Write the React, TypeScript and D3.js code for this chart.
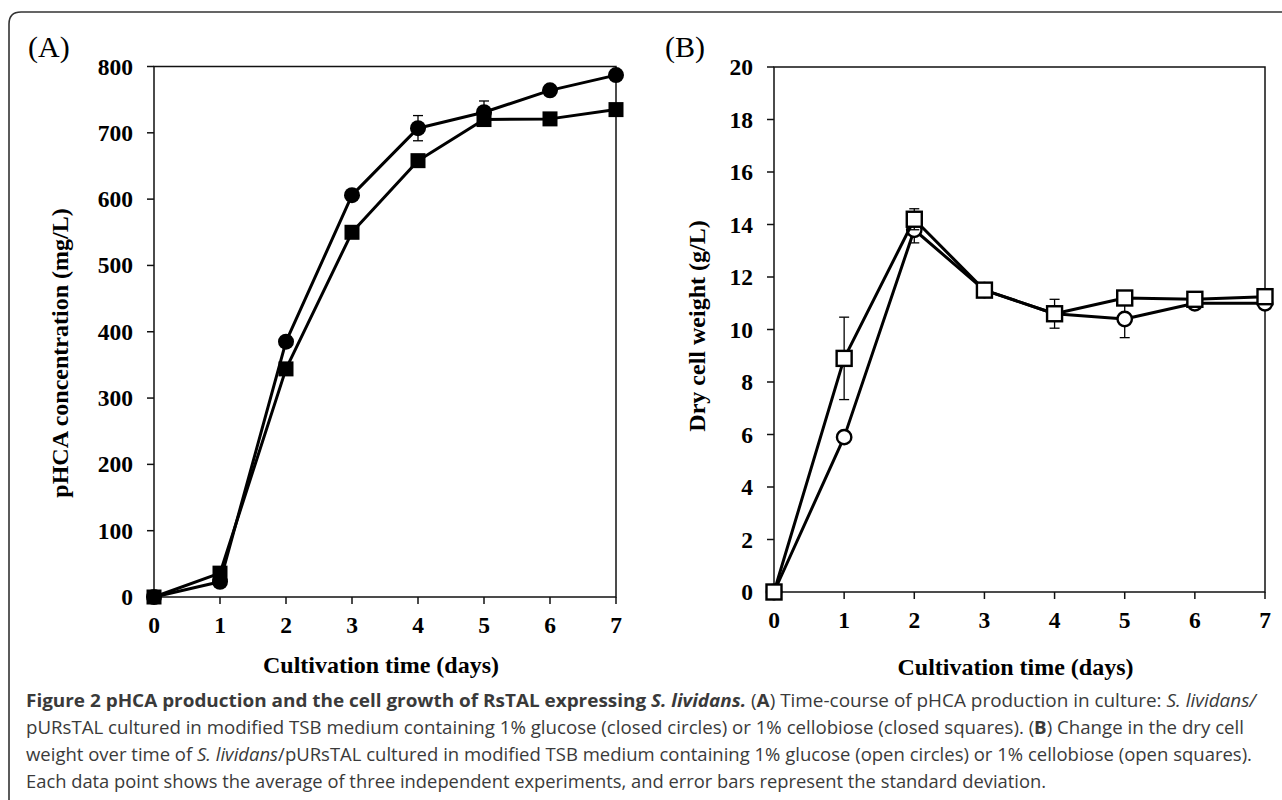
import React from "react";
import * as d3 from "d3";

// ---------- data ----------
const days = [0, 1, 2, 3, 4, 5, 6, 7];

// Panel A: pHCA concentration (mg/L)
const aGlucose = [0, 23, 385, 606, 707, 731, 764, 787];
const aGlucoseErr = [0, 0, 0, 0, 19, 17, 0, 0];
const aCellobiose = [0, 36, 344, 550, 658, 720, 721, 735];
const aCellobioseErr = [0, 0, 0, 0, 0, 0, 0, 0];
const aYTicks = [0, 100, 200, 300, 400, 500, 600, 700, 800];

// Panel B: dry cell weight (g/L)
const bGlucose = [0, 5.9, 13.8, 11.5, 10.6, 10.4, 11.0, 11.0];
const bGlucoseErr = [0, 0, 0.5, 0, 0, 0.71, 0.15, 0];
const bCellobiose = [0, 8.9, 14.2, 11.5, 10.6, 11.2, 11.15, 11.25];
const bCellobioseErr = [0, 1.57, 0.4, 0, 0.55, 0, 0, 0];
const bYTicks = [0, 2, 4, 6, 8, 10, 12, 14, 16, 18, 20];

const SERIF = "'Liberation Serif', 'Times New Roman', serif";
const SANS = "'Open Sans', 'Noto Sans', sans-serif";

type Series = { values: number[]; errs: number[]; shape: "circle" | "square"; filled: boolean };

type PanelProps = {
  label: string;
  labelX: number;
  x0: number;
  x1: number;
  yTop: number;
  yBottom: number;
  yMax: number;
  yTicks: number[];
  yTitle: string;
  yTitleX: number;
  yTitleY: number;
  xTitleY: number;
  series: Series[];
};

function Panel(p: PanelProps) {
  const x = d3.scaleLinear().domain([0, 7]).range([p.x0, p.x1]);
  const y = d3.scaleLinear().domain([0, p.yMax]).range([p.yBottom, p.yTop]);
  const line = d3
    .line<number>()
    .x((_, i) => x(days[i]))
    .y((v) => y(v));
  const tick = 7;
  const r = 7.2;
  const half = 7.5;
  return (
    <g>
      <text x={p.labelX} y={57} fontFamily={SERIF} fontSize={30} fill="#000">
        {p.label}
      </text>
      {/* frame */}
      <rect
        x={p.x0}
        y={p.yTop}
        width={p.x1 - p.x0}
        height={p.yBottom - p.yTop}
        fill="none"
        stroke="#111"
        strokeWidth={1.5}
      />
      {/* y ticks */}
      {p.yTicks.map((t) => (
        <g key={"y" + t}>
          <line x1={p.x0 - tick} x2={p.x0} y1={y(t)} y2={y(t)} stroke="#111" strokeWidth={1.5} />
          <text
            x={p.x0 - 21}
            y={y(t)}
            textAnchor="end"
            dominantBaseline="central"
            fontFamily={SERIF}
            fontWeight="bold"
            fontSize={23.5}
            fill="#000"
          >
            {t}
          </text>
        </g>
      ))}
      {/* x ticks */}
      {days.map((d) => (
        <g key={"x" + d}>
          <line x1={x(d)} x2={x(d)} y1={p.yBottom} y2={p.yBottom + tick} stroke="#111" strokeWidth={1.5} />
          <text
            x={x(d)}
            y={p.yBottom + 28}
            textAnchor="middle"
            dominantBaseline="central"
            fontFamily={SERIF}
            fontWeight="bold"
            fontSize={23.5}
            fill="#000"
          >
            {d}
          </text>
        </g>
      ))}
      {/* titles */}
      <text
        x={(p.x0 + p.x1) / 2 - 4}
        y={p.xTitleY}
        textAnchor="middle"
        dominantBaseline="central"
        fontFamily={SERIF}
        fontWeight="bold"
        fontSize={24}
        fill="#000"
      >
        Cultivation time (days)
      </text>
      <text
        transform={`translate(${p.yTitleX},${p.yTitleY}) rotate(-90)`}
        textAnchor="middle"
        dominantBaseline="central"
        fontFamily={SERIF}
        fontWeight="bold"
        fontSize={24}
        fill="#000"
      >
        {p.yTitle}
      </text>
      {/* series */}
      {p.series.map((s, si) => (
        <g key={"s" + si}>
          <path d={line(s.values) || ""} fill="none" stroke="#000" strokeWidth={3} strokeLinejoin="round" />
          {s.values.map((v, i) =>
            s.errs[i] > 0 ? (
              <g key={"e" + i} stroke="#000" strokeWidth={1.3}>
                <line x1={x(days[i])} x2={x(days[i])} y1={y(v + s.errs[i])} y2={y(v - s.errs[i])} />
                <line x1={x(days[i]) - 5} x2={x(days[i]) + 5} y1={y(v + s.errs[i])} y2={y(v + s.errs[i])} />
                <line x1={x(days[i]) - 5} x2={x(days[i]) + 5} y1={y(v - s.errs[i])} y2={y(v - s.errs[i])} />
              </g>
            ) : null
          )}
          {s.values.map((v, i) =>
            s.shape === "circle" ? (
              <circle
                key={"m" + i}
                cx={x(days[i])}
                cy={y(v)}
                r={s.filled ? r + 0.8 : r}
                fill={s.filled ? "#000" : "#fff"}
                stroke="#000"
                strokeWidth={s.filled ? 0 : 2.4}
              />
            ) : (
              <rect
                key={"m" + i}
                x={x(days[i]) - half}
                y={y(v) - half}
                width={half * 2}
                height={half * 2}
                fill={s.filled ? "#000" : "#fff"}
                stroke="#000"
                strokeWidth={s.filled ? 0 : 2.4}
              />
            )
          )}
        </g>
      ))}
    </g>
  );
}

const captionLines: { parts: { t: string; b?: boolean; i?: boolean }[]; width: number }[] = [
  {
    parts: [
      { t: "Figure 2 pHCA production and the cell growth of RsTAL expressing ", b: true },
      { t: "S. lividans.", b: true, i: true },
      { t: " (" },
      { t: "A", b: true },
      { t: ") Time-course of pHCA production in culture: " },
      { t: "S. lividans/", i: true },
    ],
    width: 1230,
  },
  {
    parts: [
      { t: "pURsTAL cultured in modified TSB medium containing 1% glucose (closed circles) or 1% cellobiose (closed squares). (" },
      { t: "B", b: true },
      { t: ") Change in the dry cell" },
    ],
    width: 1218,
  },
  {
    parts: [
      { t: "weight over time of " },
      { t: "S. lividans", i: true },
      { t: "/pURsTAL cultured in modified TSB medium containing 1% glucose (open circles) or 1% cellobiose (open squares)." },
    ],
    width: 1226,
  },
  {
    parts: [{ t: "Each data point shows the average of three independent experiments, and error bars represent the standard deviation." }],
    width: 1020,
  },
];

export default function App() {
  const W = 1282;
  const H = 800;
  return (
    <svg
      width={W}
      height={H}
      viewBox={`0 0 ${W} ${H}`}
      style={{ position: "absolute", left: 0, top: 0, background: "#fff" }}
    >
      <rect x={0} y={0} width={W} height={H} fill="#fff" />
      {/* outer frame with rounded top-left corner */}
      <path d={`M9,${H + 10} L9,24 Q9,12 21,12 L${W + 10},12`} fill="none" stroke="#333" strokeWidth={1.6} />
      <Panel
        label="(A)"
        labelX={28}
        x0={154}
        x1={616}
        yTop={66.5}
        yBottom={597}
        yMax={800}
        yTicks={aYTicks}
        yTitle="pHCA concentration (mg/L)"
        yTitleX={60}
        yTitleY={353}
        xTitleY={665}
        series={[
          { values: aGlucose, errs: aGlucoseErr, shape: "circle", filled: true },
          { values: aCellobiose, errs: aCellobioseErr, shape: "square", filled: true },
        ]}
      />
      <Panel
        label="(B)"
        labelX={665}
        x0={774}
        x1={1265}
        yTop={67}
        yBottom={592}
        yMax={20}
        yTicks={bYTicks}
        yTitle="Dry cell weight (g/L)"
        yTitleX={697}
        yTitleY={326}
        xTitleY={667}
        series={[
          { values: bGlucose, errs: bGlucoseErr, shape: "circle", filled: false },
          { values: bCellobiose, errs: bCellobioseErr, shape: "square", filled: false },
        ]}
      />
      {/* caption */}
      {captionLines.map((ln, li) => (
        <text
          key={"c" + li}
          x={26}
          y={707 + li * 27}
          fontFamily={SANS}
          fontSize={17.5}
          fill="#3a3a3a"
          textLength={ln.width}
          lengthAdjust="spacingAndGlyphs"
        >
          {ln.parts.map((pt, pi) => (
            <tspan key={pi} fontWeight={pt.b ? "bold" : "normal"} fontStyle={pt.i ? "italic" : "normal"}>
              {pt.t}
            </tspan>
          ))}
        </text>
      ))}
    </svg>
  );
}
